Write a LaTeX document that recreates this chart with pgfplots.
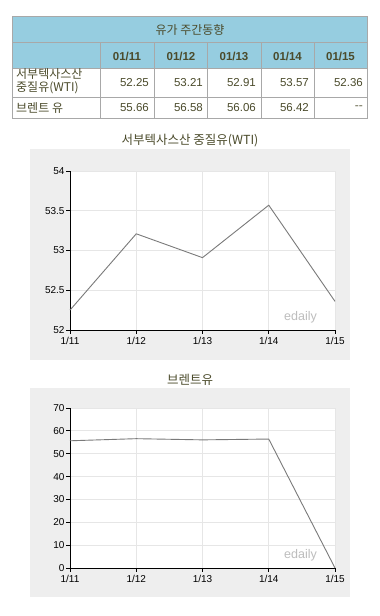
\documentclass[border=0pt]{standalone}
\usepackage{pgfplots}
\pgfplotsset{compat=1.18}
\usepackage{fontspec}
\setmainfont{Liberation Sans}
\newfontfamily\kr{Noto Sans CJK KR}
\definecolor{hdr}{HTML}{96CDE0}
\definecolor{bord}{HTML}{A8A8A8}
\definecolor{txt}{HTML}{4B4B2B}
\definecolor{panel}{HTML}{EEEEEE}
\definecolor{gridc}{HTML}{E6E6E6}
\definecolor{linec}{HTML}{7A7A7A}
\definecolor{wm}{HTML}{BDBDBD}
\begin{document}
\begin{tikzpicture}[x=1pt,y=1pt]
\useasboundingbox (0,0) rectangle (380,616);
\fill[white] (0,0) rectangle (380,616);
% ---- table ----
\fill[hdr] (12,599) rectangle (367,547);
\draw[bord,line width=1pt] (12,599) rectangle (367,497);
\draw[bord,line width=1pt] (12,573) -- (367,573);
\draw[bord,line width=1pt] (12,547) -- (367,547);
\draw[bord,line width=1pt] (12,518) -- (367,518);
\foreach \xx in {100,154,207.5,261,314}{\draw[bord,line width=1pt] (\xx,573) -- (\xx,497);}
\node[txt,font=\kr\fontsize{12}{12}\selectfont] at (190,586) {유가 주간동향};
\foreach \xx/\lab in {127/{01/11},181/{01/12},234/{01/13},287.5/{01/14},340.5/{01/15}}{
  \node[txt,font=\bfseries\fontsize{11.5}{12}\selectfont] at (\xx,560) {\lab};}
\node[txt,font=\kr\fontsize{12}{12}\selectfont,anchor=west,inner sep=0pt] at (16,542) {서부텍사스산};
\node[txt,font=\kr\fontsize{12}{12}\selectfont,anchor=west,inner sep=0pt] at (16,528) {중질유(WTI)};
\node[txt,font=\kr\fontsize{12}{12}\selectfont,anchor=west,inner sep=0pt] at (16,508) {브렌트 유};
\foreach \xx/\va/\vb in {149/52.25/55.66,203/53.21/56.58,256/52.91/56.06,309/53.57/56.42,363/52.36/{\kr -{}-}}{
  \node[txt,font=\fontsize{11.5}{12}\selectfont,anchor=east,inner sep=0pt] at (\xx,533) {\va};
  \node[txt,font=\fontsize{11.5}{12}\selectfont,anchor=east,inner sep=0pt] at (\xx,508) {\vb};}
% ---- panels ----
\fill[panel] (30,256) rectangle (350,467);
\fill[panel] (30,19) rectangle (350,228);
\node[txt,font=\kr\fontsize{12.5}{13}\selectfont] at (190,475) {서부텍사스산 중질유(WTI)};
\node[txt,font=\kr\fontsize{12.5}{13}\selectfont] at (190,236) {브렌트유};
\pgfplotsset{
  myax/.style={
    scale only axis, width=265pt, anchor=south west,
    axis background/.style={fill=white},
    axis lines=left, axis line style={-, black, line width=0.8pt},
    tick align=outside, major tick length=4pt,
    tick style={black, line width=0.8pt},
    xmin=0, xmax=4, xtick={0,1,2,3,4},
    xticklabels={1/11,1/12,1/13,1/14,1/15},
    grid=major, grid style={gridc, line width=0.8pt},
    ticklabel style={font=\fontsize{10}{10}\selectfont, black},
    yticklabel style={xshift=2pt},
    /pgf/number format/assume math mode=true,
    clip=false,
  }
}
\begin{axis}[myax, at={(70pt,286pt)}, height=159pt,
  ymin=52, ymax=54, ytick={52,52.5,53,53.5,54},
  yticklabels={52,52.5,53,53.5,54}]
\addplot[linec, line width=0.9pt] coordinates {(0,52.25) (1,53.21) (2,52.91) (3,53.57) (4,52.36)};
\node[wm,font=\fontsize{12.5}{13}\selectfont] at (rel axis cs:0.87,0.08) {edaily};
\end{axis}
\begin{axis}[myax, at={(70pt,48pt)}, height=160pt,
  ymin=0, ymax=70, ytick={0,10,...,70}]
\addplot[linec, line width=0.9pt] coordinates {(0,55.66) (1,56.58) (2,56.06) (3,56.42) (4,0)};
\node[wm,font=\fontsize{12.5}{13}\selectfont] at (rel axis cs:0.87,0.08) {edaily};
\end{axis}
\end{tikzpicture}
\end{document}
